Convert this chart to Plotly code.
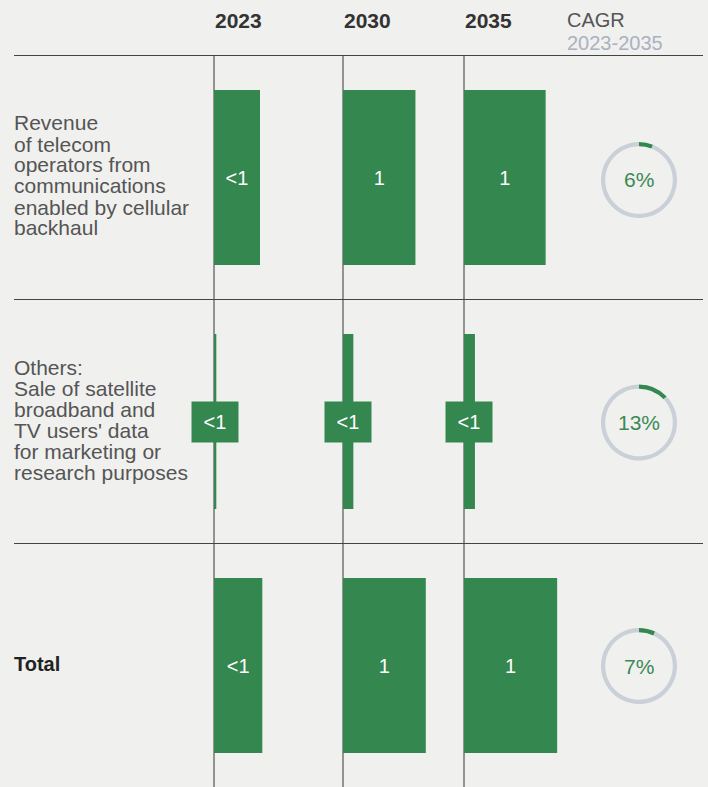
import plotly.graph_objects as go

# ---------------- data ----------------
years = ["2023", "2030", "2035"]
row_labels = [
    ["Revenue", "of telecom", "operators from", "communications", "enabled by cellular", "backhaul"],
    ["Others:", "Sale of satellite", "broadband and", "TV users' data", "for marketing or", "research purposes"],
    ["Total"],
]
rev_backhaul = [0.40, 0.63, 0.71]      # revenue values per year
others = [0.02, 0.09, 0.095]
total = [0.42, 0.72, 0.81]
labels_backhaul = ["<1", "1", "1"]
labels_others = ["<1", "<1", "<1"]
labels_total = ["<1", "1", "1"]
cagr = [6, 13, 7]
cagr_labels = ["6%", "13%", "7%"]

# ---------------- style ----------------
W, H = 708, 787
BG = "#f0f0ee"
GREEN = "#33874f"
RING = "#c9d0d8"
TXT = "#555555"
FONT = "Liberation Sans"
K = 115.0                 # px per unit
col_x0 = [214, 343, 464]  # px where each year's baseline sits
row_cy = [177.5, 421.5, 665.5]
ROW_H = 244.0
y_top = -row_cy[0] / ROW_H
y_bot = (H - row_cy[0]) / ROW_H

fig = go.Figure()

axis_names = ["x", "x2", "x3"]
for j, yr in enumerate(years):
    vals = [rev_backhaul[j], others[j], total[j]]
    txt = [labels_backhaul[j], "", labels_total[j]]
    fig.add_trace(go.Bar(
        x=vals, y=[0, 1, 2], orientation="h", base=0,
        width=175 / ROW_H,
        marker=dict(color=GREEN, line=dict(width=0)),
        text=txt, textposition="inside", insidetextanchor="middle",
        textfont=dict(color="white", size=20, family=FONT),
        xaxis=axis_names[j], yaxis="y", hoverinfo="skip", showlegend=False,
        cliponaxis=False,
    ))
    # boxed labels for the thin "Others" bars
    fig.add_annotation(
        x=others[j] / 2, y=1, xref=axis_names[j], yref="y",
        text=labels_others[j], showarrow=False,
        font=dict(color="white", size=20, family=FONT),
        bgcolor=GREEN, width=44, height=38, borderpad=1,
        xanchor="center", yanchor="middle",
    )
    # vertical baseline
    fig.add_shape(type="line", xref=axis_names[j], yref="paper",
                  x0=0, x1=0, y0=0, y1=1 - 55 / H,
                  line=dict(color="#555555", width=1.2), layer="below")
    # header
    fig.add_annotation(x=(col_x0[j] + 24) / W, y=1 - 20.5 / H, xref="paper", yref="paper",
                       text=f"<b>{yr}</b>", showarrow=False,
                       font=dict(color="#333333", size=21, family=FONT),
                       xanchor="center", yanchor="middle")

# CAGR header
fig.add_annotation(x=565 / W, y=1 - 20 / H, xref="paper", yref="paper", text="CAGR",
                   showarrow=False, font=dict(color="#555555", size=20, family=FONT),
                   xanchor="left", yanchor="middle")
fig.add_annotation(x=565 / W, y=1 - 43 / H, xref="paper", yref="paper", text="2023-2035",
                   showarrow=False, font=dict(color="#aab2c2", size=20, family=FONT),
                   xanchor="left", yanchor="middle")

# row separators
for yy in [-0.5, 0.5, 1.5]:
    fig.add_shape(type="line", xref="paper", yref="y", x0=14 / W, x1=703 / W, y0=yy, y1=yy,
                  line=dict(color="#444444", width=1.2), layer="below")

# row labels
offsets = [-54.5, -33.5, -12.5, 8.5, 29.5, 50.5]
for i, lines in enumerate(row_labels):
    if len(lines) == 1:
        fig.add_annotation(x=12 / W, y=1 - (row_cy[i] - 1.5) / H, xref="paper", yref="paper",
                           text=f"<b>{lines[0]}</b>", showarrow=False,
                           font=dict(color="#222222", size=20, family=FONT),
                           xanchor="left", yanchor="middle")
    else:
        for ln, off in zip(lines, offsets):
            fig.add_annotation(x=12 / W, y=1 - (row_cy[i] + off) / H, xref="paper", yref="paper",
                               text=ln, showarrow=False,
                               font=dict(color=TXT, size=21, family=FONT),
                               xanchor="left", yanchor="middle")

# CAGR donuts
donut_cy = [180, 422.5, 666]
CX, R = 639, 38
for i, c in enumerate(cagr):
    cy = donut_cy[i]
    fig.add_trace(go.Pie(
        values=[c, 100 - c], sort=False, direction="clockwise", rotation=0,
        hole=0.89, marker=dict(colors=[GREEN, RING], line=dict(width=0)),
        textinfo="none", hoverinfo="skip", showlegend=False,
        domain=dict(x=[(CX - R) / W, (CX + R) / W], y=[1 - (cy + R) / H, 1 - (cy - R) / H]),
    ))
    fig.add_annotation(x=CX / W, y=1 - cy / H, xref="paper", yref="paper",
                       text=cagr_labels[i], showarrow=False,
                       font=dict(color="#3a8a55", size=21, family=FONT),
                       xanchor="center", yanchor="middle")

hidden = dict(visible=False, showgrid=False, zeroline=False, fixedrange=True)
layout_axes = {}
for j, name in enumerate(["xaxis", "xaxis2", "xaxis3"]):
    ax = dict(hidden, range=[-col_x0[j] / K, (W - col_x0[j]) / K], domain=[0, 1])
    if j > 0:
        ax["overlaying"] = "x"
    layout_axes[name] = ax

fig.update_layout(
    width=W, height=H, margin=dict(l=0, r=0, t=0, b=0),
    paper_bgcolor=BG, plot_bgcolor=BG,
    barmode="overlay", showlegend=False,
    yaxis=dict(hidden, range=[y_bot, y_top], domain=[0, 1]),
    font=dict(family=FONT),
    **layout_axes,
)

fig.write_html("out.html")
